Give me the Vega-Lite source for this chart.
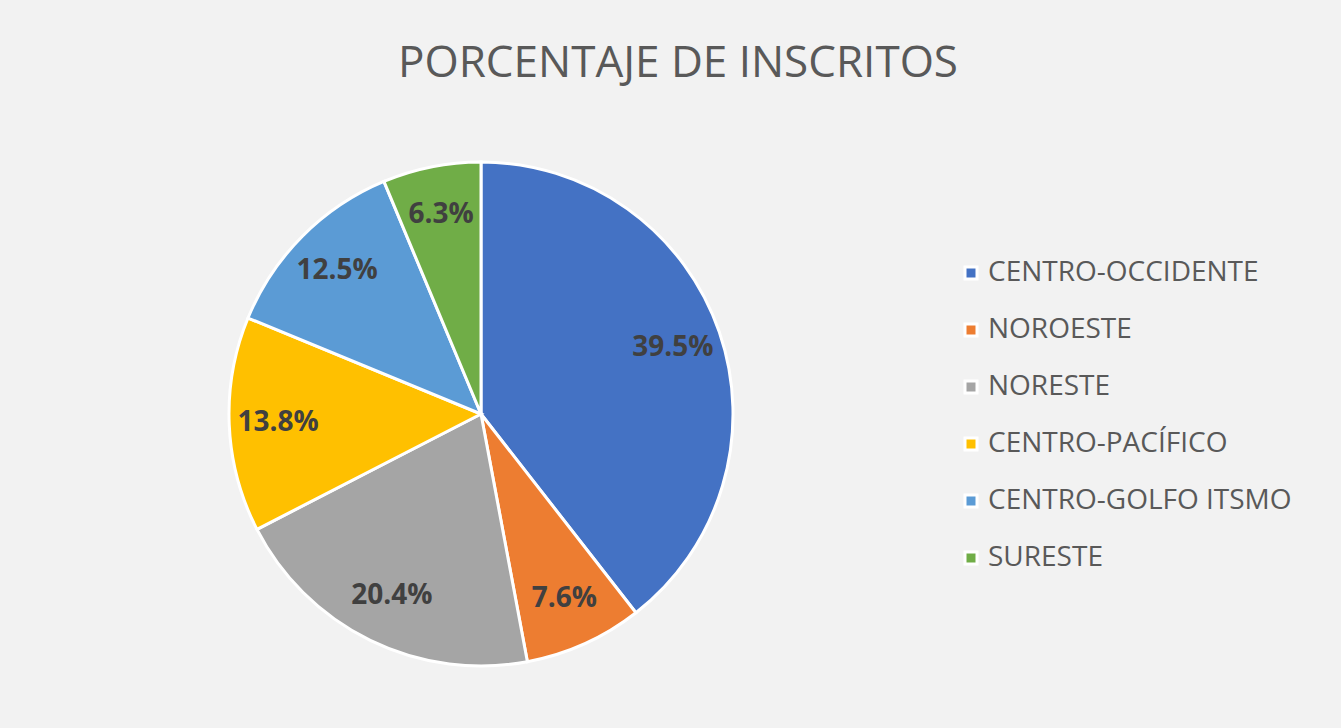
{
  "$schema": "https://vega.github.io/schema/vega-lite/v6.json",
  "width": 504,
  "height": 504,
  "autosize": {"type": "none"},
  "padding": {"left": 229, "top": 162, "right": 608, "bottom": 62},
  "background": "#f2f2f2",
  "view": {"stroke": null},
  "title": {
    "text": "PORCENTAJE DE INSCRITOS",
    "anchor": "middle",
    "frame": "group",
    "dx": 197,
    "offset": 35,
    "baseline": "alphabetic",
    "fontSize": 44,
    "font": "Open Sans",
    "fontWeight": "normal",
    "color": "#595959"
  },
  "data": {
    "values": [
      {"region": "CENTRO-OCCIDENTE", "pct": 0.395, "orden": 1},
      {"region": "NOROESTE", "pct": 0.076, "orden": 2},
      {"region": "NORESTE", "pct": 0.204, "orden": 3},
      {"region": "CENTRO-PACÍFICO", "pct": 0.138, "orden": 4},
      {"region": "CENTRO-GOLFO ITSMO", "pct": 0.125, "orden": 5},
      {"region": "SURESTE", "pct": 0.063, "orden": 6}
    ]
  },
  "encoding": {
    "theta": {"field": "pct", "type": "quantitative", "stack": true},
    "order": {"field": "orden", "type": "quantitative"}
  },
  "layer": [
    {
      "mark": {"type": "arc", "stroke": "white", "strokeWidth": 3},
      "encoding": {
        "color": {
          "field": "region",
          "type": "nominal",
          "sort": ["CENTRO-OCCIDENTE", "NOROESTE", "NORESTE", "CENTRO-PACÍFICO", "CENTRO-GOLFO ITSMO", "SURESTE"],
          "scale": {
            "domain": ["CENTRO-OCCIDENTE", "NOROESTE", "NORESTE", "CENTRO-PACÍFICO", "CENTRO-GOLFO ITSMO", "SURESTE"],
            "range": ["#4472c4", "#ed7d31", "#a5a5a5", "#ffc000", "#5b9bd5", "#70ad47"]
          },
          "legend": {
            "title": null,
            "orient": "none",
            "legendX": 728,
            "legendY": 97,
            "symbolType": "square",
            "symbolSize": 144,
            "symbolStrokeColor": "white",
            "symbolStrokeWidth": 3,
            "labelFont": "Open Sans",
            "labelFontSize": 28,
            "labelColor": "#595959",
            "labelOffset": 3,
            "rowPadding": 29,
            "labelLimit": 500,
            "padding": 0
          }
        }
      }
    },
    {
      "mark": {"type": "text", "radius": 203, "fontSize": 28, "fontWeight": "bold", "font": "Open Sans", "fill": "#404040"},
      "encoding": {
        "text": {"field": "pct", "type": "quantitative", "format": ".1%"}
      }
    }
  ]
}
